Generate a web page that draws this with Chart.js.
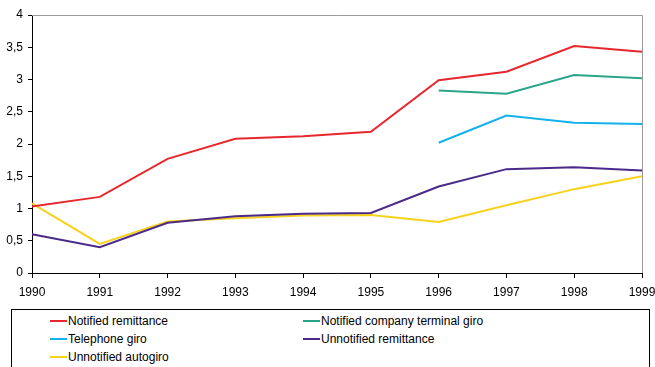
<!DOCTYPE html>
<html>
<head>
<meta charset="utf-8">
<script src="https://cdn.jsdelivr.net/npm/chart.js@4/dist/chart.umd.min.js"></script>
<style>
  html, body { margin: 0; padding: 0; background: #fff; }
  body { width: 655px; height: 367px; overflow: hidden; position: relative; font-family: "Liberation Sans", Arial, sans-serif; }
  #wrap { position: absolute; left: 0; top: 0; width: 655px; height: 300px; }
  #legend { position: absolute; left: 11px; top: 309px; width: 639px; height: 70px; border: 1px solid #000; box-sizing: border-box; }
  .item { position: absolute; font-size: 12px; line-height: 15px; color: #000; white-space: nowrap; }
  .item span.sw { display: inline-block; width: 17px; height: 2px; vertical-align: middle; margin-right: 1px; position: relative; top: -1px; }
</style>
</head>
<body>
<div id="wrap"><canvas id="c" width="655" height="300"></canvas></div>
<div id="legend"></div>
<script>
const years = ['1990','1991','1992','1993','1994','1995','1996','1997','1998','1999'];
const yTicks = [0, 0.5, 1, 1.5, 2, 2.5, 3, 3.5, 4];

const notifiedRemittance = [1.03, 1.18, 1.77, 2.08, 2.12, 2.19, 2.99, 3.12, 3.52, 3.43];
const notifiedCompanyTerminalGiro = [null, null, null, null, null, null, 2.83, 2.78, 3.07, 3.02];
const telephoneGiro = [null, null, null, null, null, null, 2.02, 2.44, 2.33, 2.31];
const unnotifiedRemittance = [0.60, 0.40, 0.78, 0.88, 0.92, 0.93, 1.34, 1.61, 1.64, 1.59];
const unnotifiedAutogiro = [1.08, 0.45, 0.80, 0.85, 0.89, 0.90, 0.79, 1.05, 1.30, 1.50];

const seriesNames = ['Notified remittance', 'Notified company terminal giro', 'Telephone giro', 'Unnotified remittance', 'Unnotified autogiro'];
const seriesData = [notifiedRemittance, notifiedCompanyTerminalGiro, telephoneGiro, unnotifiedRemittance, unnotifiedAutogiro];
const seriesColors = ['#e6282e', '#2aa58a', '#14b1ea', '#4b2a8a', '#f6d31a'];

const datasets = seriesNames.map((name, i) => ({
  label: name,
  data: seriesData[i],
  borderColor: seriesColors[i],
  backgroundColor: seriesColors[i],
  borderWidth: 2,
  pointRadius: 0,
  tension: 0,
  spanGaps: false
}));

// gray frame along the top and right of the plot area
const frame = {
  id: 'frame',
  afterDatasetsDraw(chart) {
    const { ctx, chartArea: a } = chart;
    ctx.save();
    ctx.strokeStyle = '#9a9a9a';
    ctx.lineWidth = 1;
    ctx.beginPath();
    ctx.moveTo(a.left, a.top + 0.5);
    ctx.lineTo(a.right + 0.5, a.top + 0.5);
    ctx.lineTo(a.right + 0.5, a.bottom);
    ctx.stroke();
    ctx.restore();
  }
};

const tickFont = { family: '"Liberation Sans", Arial, sans-serif', size: 12 };

new Chart(document.getElementById('c'), {
  type: 'line',
  data: { labels: years, datasets },
  options: {
    responsive: false,
    animation: false,
    layout: { padding: { left: 0, right: 13, top: 15, bottom: 0 } },
    plugins: { legend: { display: false }, tooltip: { enabled: false } },
    scales: {
      x: {
        offset: false,
        grid: { display: true, drawOnChartArea: false, drawTicks: true, tickLength: 5, color: '#000' },
        border: { display: true, color: '#000', width: 1 },
        ticks: { color: '#000', font: tickFont, padding: 7, maxRotation: 0, autoSkip: false },
        afterFit(s) { s.height = 27; s.paddingLeft = 0; s.paddingRight = 0; }
      },
      y: {
        min: 0, max: 4,
        afterBuildTicks(s) { s.ticks = yTicks.map(v => ({ value: v })); },
        grid: { display: true, drawOnChartArea: false, drawTicks: true, tickLength: 4, color: '#000' },
        border: { display: true, color: '#000', width: 1 },
        ticks: {
          color: '#000', font: tickFont, padding: 5,
          callback: v => String(v).replace('.', ',')
        },
        afterFit(s) { s.width = 32; s.paddingTop = 0; s.paddingBottom = 0; }
      }
    }
  },
  plugins: [frame]
});

// legend below the chart, two columns
const legend = document.getElementById('legend');
const positions = [[38, 4], [291, 4], [38, 22], [291, 22], [38, 40]];
seriesNames.forEach((name, i) => {
  const el = document.createElement('div');
  el.className = 'item';
  el.style.left = positions[i][0] + 'px';
  el.style.top = positions[i][1] + 'px';
  const sw = document.createElement('span');
  sw.className = 'sw';
  sw.style.background = seriesColors[i];
  el.appendChild(sw);
  el.appendChild(document.createTextNode(name));
  legend.appendChild(el);
});
</script>
</body>
</html>
